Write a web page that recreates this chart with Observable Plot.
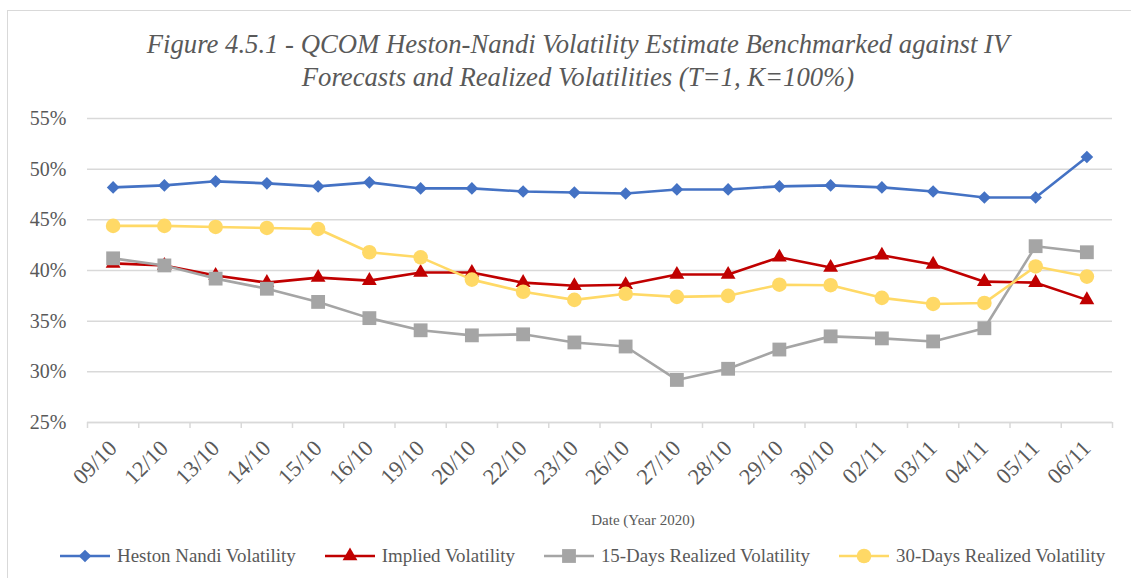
<!DOCTYPE html>
<html>
<head>
<meta charset="utf-8">
<script src="https://cdn.jsdelivr.net/npm/d3@7"></script>
<script src="https://cdn.jsdelivr.net/npm/@observablehq/plot@0.6"></script>
<style>
  html, body { margin: 0; padding: 0; background: #fff; }
  #wrap { position: relative; width: 1131px; height: 578px; overflow: hidden; font-family: "Liberation Serif", "Times New Roman", serif; color: #595959; }
  #border { position: absolute; left: 7px; top: 10px; width: 1200px; height: 700px; border-left: 1.5px solid #d9d9d9; border-top: 1.5px solid #d9d9d9; }
  #title { position: absolute; left: 25px; right: 0; top: 28px; text-align: center; font-style: italic; font-size: 26.7px; line-height: 33px; font-family: "Liberation Serif", serif; }
  #chart { position: absolute; left: 0; top: 0; }
  #chart svg text { font-family: "Liberation Serif", serif; }
  #xtitle { position: absolute; left: 543px; width: 200px; top: 512px; text-align: center; font-size: 15px; }
  #legend { position: absolute; left: 60px; top: 545px; display: flex; align-items: center; font-size: 18.9px; white-space: nowrap; }
  .item { display: flex; align-items: center; margin-right: 29px; }
  .item svg { margin-right: 7px; }
</style>
</head>
<body>
<div id="wrap">
  <div id="border"></div>
  <div id="title">Figure 4.5.1 - QCOM Heston-Nandi Volatility Estimate Benchmarked against IV<br>Forecasts and Realized Volatilities (T=1, K=100%)</div>
  <div id="chart"></div>
  <div id="xtitle">Date (Year 2020)</div>
  <div id="legend"></div>
</div>
<script>
const dates = ["09/10","12/10","13/10","14/10","15/10","16/10","19/10","20/10","22/10","23/10","26/10","27/10","28/10","29/10","30/10","02/11","03/11","04/11","05/11","06/11"];
const hestonNandi = [48.2,48.4,48.8,48.6,48.3,48.7,48.1,48.1,47.8,47.7,47.6,48.0,48.0,48.3,48.4,48.2,47.8,47.2,47.2,51.2];
const impliedVol  = [40.7,40.5,39.5,38.8,39.3,39.0,39.8,39.8,38.8,38.5,38.6,39.6,39.6,41.3,40.3,41.5,40.6,38.9,38.8,37.1];
const realized15  = [41.2,40.5,39.2,38.2,36.9,35.3,34.1,33.6,33.7,32.9,32.5,29.2,30.3,32.2,33.5,33.3,33.0,34.3,42.4,41.8];
const realized30  = [44.4,44.4,44.3,44.2,44.1,41.8,41.3,39.1,37.9,37.1,37.7,37.4,37.5,38.6,38.55,37.3,36.7,36.8,40.4,39.4];
const yTicks = [25,30,35,40,45,50,55];

const series = [
  {name: "Heston Nandi Volatility", values: hestonNandi, color: "#4472C4", symbol: "diamond2", r: 5.7},
  {name: "Implied Volatility", values: impliedVol, color: "#C00000", symbol: "triangle", r: 5.5},
  {name: "15-Days Realized Volatility", values: realized15, color: "#A5A5A5", symbol: "square", r: 7.8},
  {name: "30-Days Realized Volatility", values: realized30, color: "#FFD966", symbol: "circle", r: 7.3}
];

const rowsOf = s => s.values.map((v, i) => ({i: i + 0.5, v, date: dates[i]}));
const serif = "Liberation Serif";

const marks = [
  Plot.gridY({ticks: yTicks, stroke: "#d9d9d9", strokeOpacity: 1, strokeWidth: 1.5}),
  Plot.axisY({ticks: yTicks, tickSize: 0, tickPadding: 21, tickFormat: d => d + "%", label: null, fontSize: 20, fontFamily: serif, fill: "#595959"}),
  Plot.ruleY([25], {stroke: "#d9d9d9", strokeWidth: 1.5}),
  Plot.axisX({ticks: d3.range(dates.length + 1), tickSize: 6, tickFormat: () => "", stroke: "#d9d9d9", strokeOpacity: 1, strokeWidth: 1.5, label: null}),
  Plot.axisX({ticks: d3.range(dates.length).map(i => i + 0.5), tickSize: 0, tickPadding: 22, tickRotate: -45, tickFormat: d => dates[Math.floor(d)], label: null, fontSize: 22.5, fontFamily: serif, fill: "#595959"})
];
for (const s of series) {
  const rows = rowsOf(s);
  marks.push(Plot.line(rows, {x: "i", y: "v", stroke: s.color, strokeWidth: 2.6}));
  marks.push(Plot.dot(rows, {x: "i", y: "v", symbol: () => s.symbol, fill: s.color, stroke: "none", r: s.r}));
}

const chart = Plot.plot({
  width: 1131, height: 578,
  marginTop: 118, marginBottom: 156, marginLeft: 87, marginRight: 19,
  x: {type: "linear", domain: [0, dates.length]},
  y: {domain: [25, 55]},
  symbol: {type: "identity"},
  style: {fontFamily: serif, color: "#595959", background: "transparent", overflow: "visible"},
  marks
});
document.getElementById("chart").appendChild(chart);

// legend
const legend = d3.select("#legend");
for (const s of series) {
  const item = legend.append("div").attr("class", "item");
  const svg = item.append("svg").attr("width", 50).attr("height", 20);
  svg.append("line").attr("x1", 0).attr("x2", 50).attr("y1", 10).attr("y2", 10).attr("stroke", s.color).attr("stroke-width", 2.6);
  const sym = {diamond2: d3.symbolDiamond2, triangle: d3.symbolTriangle, square: d3.symbolSquare, circle: d3.symbolCircle}[s.symbol];
  svg.append("path").attr("transform", "translate(25,10)").attr("d", d3.symbol(sym, s.r * s.r * Math.PI)()).attr("fill", s.color);
  item.append("span").text(s.name);
}
</script>
</body>
</html>
